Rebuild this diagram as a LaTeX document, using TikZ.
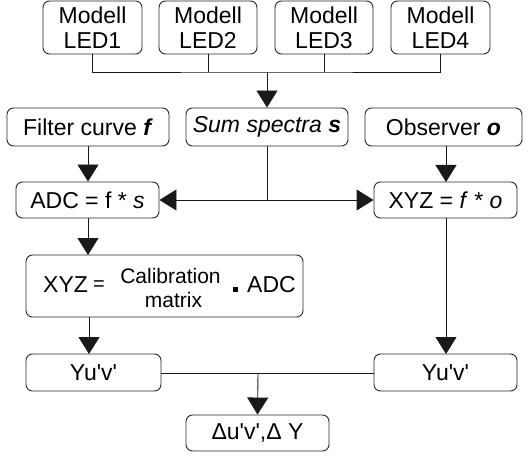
\documentclass[tikz,border=0pt]{standalone}
\usepackage{fontspec}
\setmainfont{Liberation Sans}
\usetikzlibrary{arrows.meta}

\tikzset{
  box/.style={draw=black!85, line width=0.9pt, rounded corners=6.5pt, inner sep=0pt,
              align=center, font=\fontsize{23}{25}\selectfont},
  txt/.style={inner sep=0pt, font=\fontsize{23}{25}\selectfont},
  small/.style={inner sep=0pt, font=\fontsize{21}{22}\selectfont},
  link/.style={draw=black!90, line width=0.9pt},
  arr/.style={link, -{Triangle[width=21pt,length=17pt]}},
}

\begin{document}
\begin{tikzpicture}[x=1pt,y=-1pt]
  \useasboundingbox (0,0) rectangle (532,457);

  % LED models
  \node[box, minimum width=99pt, minimum height=53pt] (led1) at (92.5,27.5) {Modell\\LED1};
  \node[box, minimum width=98pt, minimum height=53pt] (led2) at (208,27.5) {Modell\\LED2};
  \node[box, minimum width=98pt, minimum height=53pt] (led3) at (324,27.5) {Modell\\LED3};
  \node[box, minimum width=99pt, minimum height=53pt] (led4) at (440.5,27.5) {Modell\\LED4};

  % inputs
  \node[box, minimum width=162pt, minimum height=38pt] (filt) at (88,127) {Filter curve \textbf{\textit{f}}};
  \node[box, minimum width=162pt, minimum height=38pt] (sum) at (267,127) {\textit{Sum spectra \textbf{s}}};
  \node[box, minimum width=157pt, minimum height=38pt] (obs) at (443.5,127) {Observer \textbf{\textit{o}}};

  % products
  \node[box, minimum width=143pt, minimum height=36pt] (adc) at (87.5,200) {ADC = f * \textit{s}};
  \node[box, minimum width=143pt, minimum height=36pt] (xyz) at (445.5,200) {XYZ = \textit{f} * \textit{o}};

  % calibration
  \node[box, minimum width=277pt, minimum height=62pt] (cal) at (164.5,286) {};
  \node[txt, anchor=base west] (calxyz) at (43,292) {XYZ};
  \node[inner sep=0pt, font=\fontsize{20}{22}\selectfont, anchor=base west] (caleq) at (93,290) {=};
  \node[small, anchor=base] (calname) at (170.5,283) {Calibration};
  \node[small, anchor=base] (calmat) at (173.5,307) {matrix};
  \node[fill=black, inner sep=0pt, minimum size=5pt] (caldot) at (235.5,289) {};
  \node[txt, anchor=base west] (caladc) at (247,292) {ADC};

  % colour coordinates
  \node[box, minimum width=135pt, minimum height=37pt] (yul) at (93.5,372.5) {Yu\textquotesingle v\textquotesingle};
  \node[box, minimum width=143pt, minimum height=37pt] (yur) at (445.5,372.5) {Yu\textquotesingle v\textquotesingle};

  % difference
  \node[box, minimum width=143pt, minimum height=36pt] (delta) at (257.5,433) {Δu\textquotesingle v\textquotesingle,Δ Y};

  % LED bus into sum spectra
  \coordinate (bus) at (267,72);
  \draw[link] (led1.south) |- (bus) -| (led4.south);
  \draw[link] (led2.south) -- (led2.south |- bus);
  \draw[link] (led3.south) -- (led3.south |- bus);
  \draw[arr] (bus) -- (sum.north);

  % sum spectra split
  \coordinate (split) at (267,200);
  \draw[link] (sum.south) -- (split);
  \draw[arr] (split) -- (adc.east);
  \draw[arr] (split) -- (xyz.west);

  % vertical flows
  \draw[arr] (filt.south) -- (filt.south |- adc.north);
  \draw[arr] (obs.south -| 446,0) -- (446,182);
  \draw[arr] (88,218) -- (88,255);
  \draw[arr] (89,317) -- (89,354);
  \draw[arr] (446,218) -- (446,354);

  % comparison
  \coordinate (merge) at (258,373);
  \draw[link] (yul.east |- merge) -- (yur.west |- merge);
  \draw[arr] (merge) -- (delta.north);
\end{tikzpicture}
\end{document}
